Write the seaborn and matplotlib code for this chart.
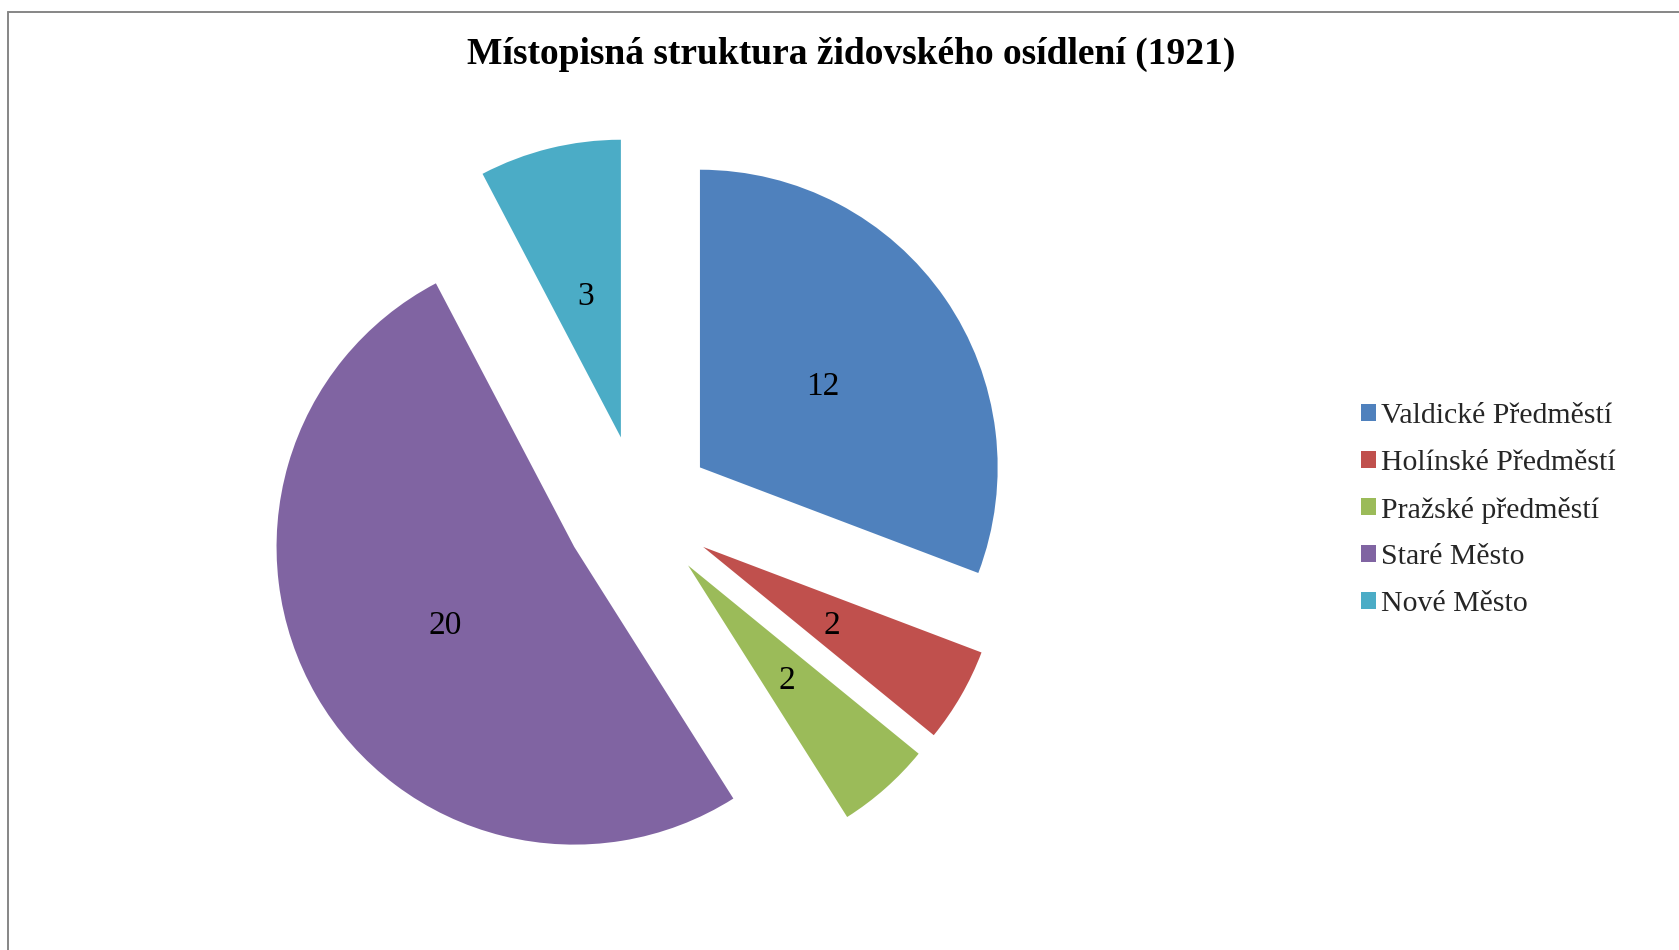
import matplotlib
matplotlib.use("Agg")
import matplotlib.pyplot as plt
import matplotlib.transforms as mtransforms
import seaborn as sns
from matplotlib.lines import Line2D

categories = ["Valdické Předměstí", "Holínské Předměstí", "Pražské předměstí", "Staré Město", "Nové Město"]
values = [12, 2, 2, 20, 3]
colors = ["#4F81BD", "#C0504D", "#9BBB59", "#8064A2", "#4BACC6"]
title = "Místopisná struktura židovského osídlení (1921)"

sns.set_theme(style="white")
plt.rcParams['font.family'] = ['Liberation Serif', 'DejaVu Serif']

W, H = 1679, 950
fig = plt.figure(figsize=(W / 100, H / 100), dpi=100)
fig.patch.set_facecolor("white")

# pie geometry (pixels)
cx, cy, r = 638.7, 509.7, 297.7
half = 1.4
ax = fig.add_axes([(cx - half * r) / W, (H - cy - half * r) / H, 2 * half * r / W, 2 * half * r / H])

total = sum(values)
wedges, texts, autotexts = ax.pie(
    values, colors=colors, startangle=90, counterclock=False,
    explode=[0.25] * len(values), radius=1.0, pctdistance=0.5,
    autopct=lambda p: f"{round(p * total / 100):d}",
    textprops=dict(fontsize=24, color="black"),
    wedgeprops=dict(linewidth=0),
)
ax.set_xlim(-half, half)
ax.set_ylim(-half, half)
ax.set_aspect("equal")
ax.axis("off")

shift = mtransforms.ScaledTranslation(0, -4 / 100, fig.dpi_scale_trans)
for t in autotexts:
    t.set_transform(t.get_transform() + shift)

fig.text(851 / W, 1 - 54 / H, title, ha="center", va="center",
         fontsize=27, fontweight="bold", color="black")

fig.legend(wedges, categories, loc="center left",
           bbox_to_anchor=(1361 / W, 1 - 510 / H), frameon=False,
           fontsize=21.5, handlelength=0.5, handleheight=0.5,
           handletextpad=0.18, labelspacing=0.69, borderpad=0, borderaxespad=0)

# outer frame (top and left visible)
fig.add_artist(Line2D([7.5 / W, 1.0], [1 - 12 / H, 1 - 12 / H], transform=fig.transFigure,
                      color="#868686", linewidth=1.4))
fig.add_artist(Line2D([7.5 / W, 7.5 / W], [1 - 12 / H, 0.0], transform=fig.transFigure,
                      color="#868686", linewidth=1.4))

fig.savefig("out.png", dpi=100, facecolor="white")
